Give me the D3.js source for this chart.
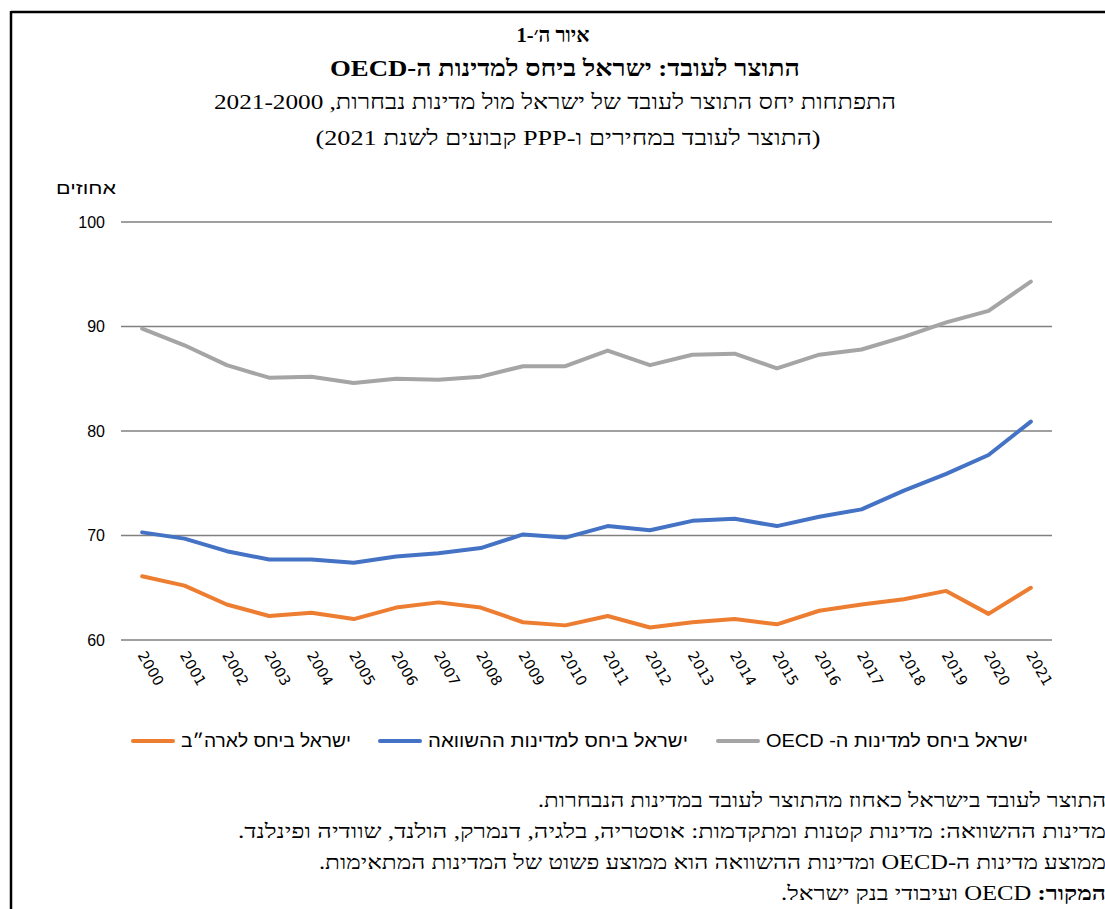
<!DOCTYPE html>
<meta charset="utf-8">
<html>
  <head>
    <title>איור ה׳-1</title>
    <style>
      body { margin: 0; background: #fff; overflow: hidden; }
      svg { display: block; }
    </style>
  </head>
  <body>
    <div id="chart"></div>
    <script src="https://d3js.org/d3.v7.min.js"></script>
    <script>

      // data (percent)
      const years = ["2000","2001","2002","2003","2004","2005","2006","2007","2008","2009","2010",
                     "2011","2012","2013","2014","2015","2016","2017","2018","2019","2020","2021"];
      const usa = [66.1,65.2,63.4,62.3,62.6,62.0,63.1,63.6,63.1,61.7,61.4,
                   62.3,61.2,61.7,62.0,61.5,62.8,63.4,63.9,64.7,62.5,65.0];
      const compare = [70.3,69.7,68.5,67.7,67.7,67.4,68.0,68.3,68.8,70.1,69.8,
                       70.9,70.5,71.4,71.6,70.9,71.8,72.5,74.3,75.9,77.7,80.9];
      const oecd = [89.8,88.2,86.3,85.1,85.2,84.6,85.0,84.9,85.2,86.2,86.2,
                    87.7,86.3,87.3,87.4,86.0,87.3,87.8,89.0,90.4,91.5,94.3];
      const yTicks = [60, 70, 80, 90, 100];

      const seriesNames = ["ישראל ביחס לארה״ב", "ישראל ביחס למדינות ההשוואה", "ישראל ביחס למדינות ה- OECD"];
      const seriesColors = ["#ED7D31", "#4472C4", "#A5A5A5"];
      const series = [usa, compare, oecd];

      const titleLines = ["איור ה׳-1", "התוצר לעובד: ישראל ביחס למדינות ה-OECD",
                          "התפתחות יחס התוצר לעובד של ישראל מול מדינות נבחרות, 2021-2000",
                          "(התוצר לעובד במחירים ו-PPP קבועים לשנת 2021)"];
      const notes = ["התוצר לעובד בישראל כאחוז מהתוצר לעובד במדינות הנבחרות.",
                     "מדינות ההשוואה: מדינות קטנות ומתקדמות: אוסטריה, בלגיה, דנמרק, הולנד, שוודיה ופינלנד.",
                     "ממוצע מדינות ה-OECD ומדינות ההשוואה הוא ממוצע פשוט של המדינות המתאימות."];

      const W = 1105, H = 909;
      const serif = "'Liberation Serif', 'Times New Roman', serif";
      const sans = "'Liberation Sans', Arial, sans-serif";

      const svg = d3.select("#chart").append("svg")
        .attr("width", W).attr("height", H);

      // frame
      svg.append("line").attr("x1", 11).attr("x2", W).attr("y1", 12).attr("y2", 12)
        .attr("stroke", "#000").attr("stroke-width", 2.5);
      svg.append("line").attr("x1", 11).attr("x2", 11).attr("y1", 11).attr("y2", H)
        .attr("stroke", "#000").attr("stroke-width", 2.5);

      // titles (widths stretched to the original's)
      const titleX = [553, 565, 555, 568];
      const titleY = [42, 76, 109, 145];
      const titleSize = [21, 23, 21, 21];
      const titleLen = [73, 470, 682, 505];
      titleLines.forEach((t, i) => {
        svg.append("text")
          .attr("x", titleX[i]).attr("y", titleY[i])
          .attr("direction", "rtl")
          .attr("text-anchor", "middle")
          .attr("textLength", titleLen[i])
          .attr("lengthAdjust", "spacingAndGlyphs")
          .style("font-family", serif)
          .style("font-size", titleSize[i] + "px")
          .style("font-weight", i < 2 ? "bold" : "normal")
          .text(t);
      });

      // scales
      const x = d3.scaleBand().domain(years).range([121, 1052]);
      const y = d3.scaleLinear().domain([60, 100]).range([640, 222]);

      // gridlines
      svg.append("g").selectAll("line").data(yTicks).join("line")
        .attr("x1", 121).attr("x2", 1052)
        .attr("y1", d => y(d)).attr("y2", d => y(d))
        .attr("stroke", "#808080").attr("stroke-width", 1.3);

      // y tick labels
      svg.append("g").selectAll("text").data(yTicks).join("text")
        .attr("x", 105).attr("y", d => y(d)).attr("dy", "0.35em")
        .attr("text-anchor", "end")
        .style("font-family", sans).style("font-size", "16px")
        .text(d => d);

      svg.append("text")
        .attr("x", 116).attr("y", 194)
        .attr("direction", "rtl").attr("text-anchor", "start")
        .attr("textLength", 60).attr("lengthAdjust", "spacingAndGlyphs")
        .style("font-family", sans).style("font-size", "17px")
        .text("אחוזים");

      // x labels, rotated
      svg.append("g").selectAll("text").data(years).join("text")
        .attr("transform", d => `translate(${x(d) + x.bandwidth() / 2 - 5}, 655) rotate(60)`)
        .attr("text-anchor", "start")
        .style("font-family", "'DejaVu Sans', sans-serif").style("font-size", "14.5px")
        .text(d => d);

      // lines
      const line = d3.line()
        .x((d, i) => x(years[i]) + x.bandwidth() / 2)
        .y(d => y(d));

      svg.append("g").selectAll("path").data(series).join("path")
        .attr("d", d => line(d))
        .attr("fill", "none")
        .attr("stroke", (d, i) => seriesColors[i])
        .attr("stroke-width", 4)
        .attr("stroke-linejoin", "round")
        .attr("stroke-linecap", "round");

      // legend
      const legendX = [133, 380, 718];
      const legendLen = [170, 260, 262];
      seriesNames.forEach((n, i) => {
        svg.append("line")
          .attr("x1", legendX[i]).attr("x2", legendX[i] + 40)
          .attr("y1", 741).attr("y2", 741)
          .attr("stroke", seriesColors[i]).attr("stroke-width", 4)
          .attr("stroke-linecap", "round");
        svg.append("text")
          .attr("x", legendX[i] + 48 + legendLen[i]).attr("y", 741).attr("dy", "0.35em")
          .attr("direction", "rtl").attr("text-anchor", "start")
          .attr("textLength", legendLen[i]).attr("lengthAdjust", "spacingAndGlyphs")
          .style("font-family", sans).style("font-size", "18px")
          .text(n);
      });

      // notes
      const noteY = [807, 838, 869];
      const noteLen = [568, 868, 787];
      notes.forEach((t, i) => {
        svg.append("text")
          .attr("x", 1106).attr("y", noteY[i])
          .attr("direction", "rtl").attr("text-anchor", "start")
          .attr("textLength", noteLen[i]).attr("lengthAdjust", "spacingAndGlyphs")
          .style("font-family", serif).style("font-size", "20px")
          .text(t);
      });
      const src = svg.append("text")
        .attr("x", 1106).attr("y", 900)
        .attr("direction", "rtl").attr("text-anchor", "start")
        .attr("textLength", 325).attr("lengthAdjust", "spacingAndGlyphs")
        .style("font-family", serif).style("font-size", "20px");
      src.append("tspan").style("font-weight", "bold").text("המקור: ");
      src.append("tspan").text("OECD ועיבודי בנק ישראל.");

    </script>
  </body>
</html>
